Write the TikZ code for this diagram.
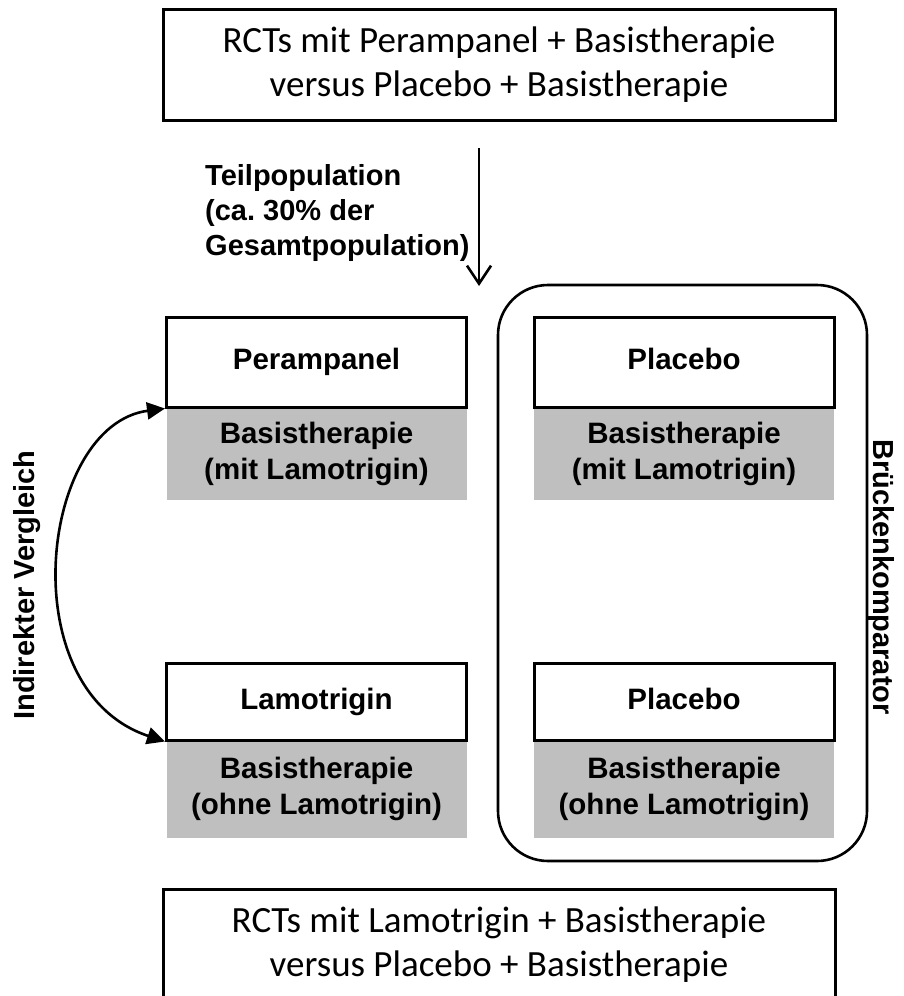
\documentclass[tikz,border=0pt]{standalone}
\usepackage{fontspec}
\setmainfont{Carlito}
\setsansfont{Liberation Sans}
\usetikzlibrary{arrows.meta}
\frenchspacing

\tikzset{
  rctbox/.style={draw,line width=3pt,minimum width=672pt,minimum height=111pt,
    inner sep=0pt,align=center,font=\fontsize{37}{44}\selectfont},
  armbox/.style={draw,line width=3pt,fill=white,minimum width=300pt,
    inner sep=0pt,text height=21pt,text depth=6pt,
    font=\sffamily\bfseries\fontsize{29.5}{35}\selectfont},
  basisbox/.style={fill=black!25,minimum width=300pt,inner sep=0pt,align=center,
    font=\sffamily\bfseries\fontsize{29.5}{36}\selectfont},
  sidelabel/.style={inner sep=0pt,font=\sffamily\bfseries\fontsize{29}{35}\selectfont}
}

\begin{document}
\begin{tikzpicture}[x=1pt,y=-1pt]
  \useasboundingbox (0,0) rectangle (904,996);

  % studies
  \node[rctbox] (rctpera) at (499,64.5) {RCTs mit Perampanel + Basistherapie\\versus Placebo + Basistherapie};
  \node[rctbox] (rctlamo) at (499,944.5) {RCTs mit Lamotrigin + Basistherapie\\versus Placebo + Basistherapie};

  % bridge comparator
  \node[draw,line width=2.6pt,rounded corners=50pt,minimum width=369pt,minimum height=576pt,
        inner sep=0pt] (bridge) at (682.5,573) {};
  \node[sidelabel,rotate=-90] (bridgelbl) at (881,577) {Brückenkomparator};

  % arms
  \node[basisbox,minimum height=93pt] (perabasis) at (316.5,453.5) {Basistherapie\\(mit Lamotrigin)};
  \node[armbox,minimum height=90pt] (pera) at (316.5,362) {Perampanel};
  \node[basisbox,minimum height=93pt] (placabasis) at (684,453.5) {Basistherapie\\(mit Lamotrigin)};
  \node[armbox,minimum height=90pt] (placa) at (684,362) {Placebo};

  \node[basisbox,minimum height=98pt] (lamobasis) at (316.5,789) {Basistherapie\\(ohne Lamotrigin)};
  \node[armbox,minimum height=77pt] (lamo) at (316.5,701.5) {Lamotrigin};
  \node[basisbox,minimum height=98pt] (placbbasis) at (684,789) {Basistherapie\\(ohne Lamotrigin)};
  \node[armbox,minimum height=77pt] (placb) at (684,701.5) {Placebo};

  % subpopulation arrow
  \coordinate (subtop) at (479,148);
  \coordinate (subbot) at (479,286);
  \draw[line width=2.6pt,-{Straight Barb[length=18pt,width=24pt,line width=2.6pt]}] (subtop) -- (subbot);
  \node[sidelabel,anchor=west,align=left] (sublbl) at (205,213)
    {Teilpopulation\\(ca. 30\% der\\Gesamtpopulation)};

  % indirect comparison
  \draw[line width=2.6pt,{Triangle[length=18pt,width=17pt]}-{Triangle[length=18pt,width=17pt]}]
    (pera.south west) .. controls (40,425) and (10,690) .. (lamo.south west);
  \node[sidelabel,rotate=90] (indlbl) at (27,585) {Indirekter Vergleich};
\end{tikzpicture}
\end{document}
